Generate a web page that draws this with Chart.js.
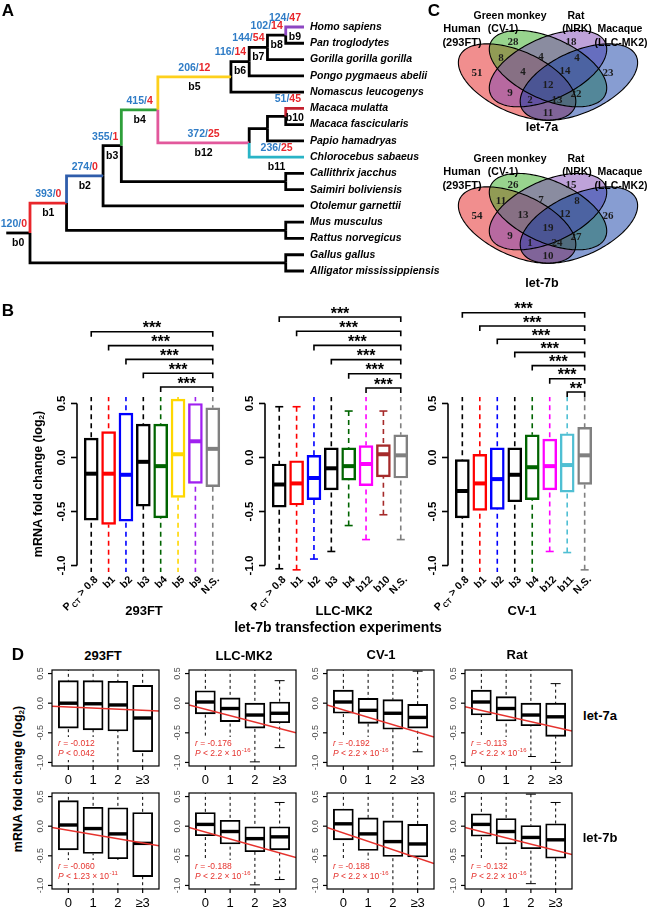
<!DOCTYPE html>
<html>
<head>
<meta charset="utf-8">
<script src="https://cdn.jsdelivr.net/npm/chart.js@4.4.0/dist/chart.umd.min.js"></script>
<style>
  html, body { margin: 0; padding: 0; background: #fff; }
  body { width: 648px; height: 908px; position: relative; overflow: hidden;
         font-family: "Liberation Sans", Arial, Helvetica, sans-serif; }
  canvas { position: absolute; }
  .t { position: absolute; white-space: nowrap; font-weight: bold; color: #000;
       transform: translate(-50%, -50%); line-height: 1; }
  .t sub { font-size: 65%; vertical-align: -0.25em; }
</style>
</head>
<body>
<script>
// ---------------- A: miRNA target gain/loss on the tree ----------------
const species = ['Homo sapiens', 'Pan troglodytes', 'Gorilla gorilla gorilla', 'Pongo pygmaeus abelii',
  'Nomascus leucogenys', 'Macaca mulatta', 'Macaca fascicularis', 'Papio hamadryas', 'Chlorocebus sabaeus',
  'Callithrix jacchus', 'Saimiri boliviensis', 'Otolemur garnettii', 'Mus musculus', 'Rattus norvegicus',
  'Gallus gallus', 'Alligator mississippiensis'];
const tipParents = ['n8', 'n8', 'n7', 'n6', 'n5', 'n10', 'n10', 'n13', 'n12', 'nNW', 'nNW', 'n2',
  'nRod', 'nRod', 'nBird', 'nBird'];
const tipDepth = 15;
// internal nodes: [id, parent, depth]
const treeNodes = [['root', null, 0], ['n1', 'root', 2], ['n2', 'n1', 4], ['n3', 'n2', 5], ['n4', 'n3', 7],
  ['n5', 'n4', 11], ['n6', 'n5', 12], ['n7', 'n6', 13], ['n8', 'n7', 14], ['n12', 'n4', 12], ['n13', 'n12', 13],
  ['n10', 'n13', 14], ['nNW', 'n3', 14], ['nRod', 'n1', 14], ['nBird', 'root', 14]];
const branchNames = ['b0', 'b1', 'b2', 'b3', 'b4', 'b5', 'b6', 'b7', 'b8', 'b9', 'b10', 'b11', 'b12'];
const branchNodes = ['root', 'n1', 'n2', 'n3', 'n4', 'n5', 'n6', 'n7', 'n8', 'Homo sapiens',
  'Macaca mulatta', 'Chlorocebus sabaeus', 'n12'];
const gained = [120, 393, 274, 355, 415, 206, 116, 144, 102, 124, 51, 236, 372];
const lost = [0, 0, 0, 1, 4, 12, 14, 54, 14, 47, 45, 25, 25];

// ---------------- C: Venn counts ----------------
const vennSets = ['Human', 'Green monkey', 'Rat', 'Macaque'];
const vennCells = ['(293FT)', '(CV-1)', '(NRK)', '(LLC-MK2)'];
// regions: R, G, P, B, RG, GP, PB, RGP, GPB, RGPB, RP, GB, RPB, RGB, RB
const venn7a = [51, 28, 18, 23, 8, 4, 4, 4, 14, 12, 9, 22, 2, 13, 11];
const venn7b = [54, 26, 15, 26, 11, 7, 8, 13, 12, 19, 9, 27, 1, 24, 10];

// ---------------- B: let-7b transfection boxplots ----------------
const bTicks = [0.5, 0.0, -0.5, -1.0];
const b293Groups = ['P_CT > 0.8', 'b1', 'b2', 'b3', 'b4', 'b5', 'b9', 'N.S.'];
const b293Q1 = [-0.58, -0.62, -0.59, -0.45, -0.56, -0.37, -0.24, -0.27];
const b293Med = [-0.15, -0.15, -0.16, -0.04, -0.08, 0.03, 0.15, 0.08];
const b293Q3 = [0.18, 0.24, 0.41, 0.31, 0.31, 0.54, 0.50, 0.46];
const b293Lo = [-1.4, -1.4, -1.4, -1.4, -1.4, -1.4, -1.4, -1.4];
const b293Hi = [0.9, 0.9, 0.9, 0.9, 0.9, 0.9, 0.9, 0.9];
const b293SigFrom = [0, 1, 2, 3, 4];
const b293Sig = ['***', '***', '***', '***', '***'];

const bLlcGroups = ['P_CT > 0.8', 'b1', 'b2', 'b3', 'b4', 'b12', 'b10', 'N.S.'];
const bLlcQ1 = [-0.46, -0.44, -0.39, -0.30, -0.21, -0.26, -0.18, -0.19];
const bLlcMed = [-0.25, -0.24, -0.19, -0.10, -0.08, -0.06, 0.03, 0.02];
const bLlcQ3 = [-0.06, -0.03, 0.02, 0.09, 0.09, 0.11, 0.12, 0.21];
const bLlcLo = [-1.03, -1.04, -0.94, -0.87, -0.63, -0.76, -0.53, -0.76];
const bLlcHi = [0.47, 0.47, 0.9, 0.9, 0.43, 0.9, 0.43, 0.9];
const bLlcSigFrom = [0, 1, 2, 3, 4, 5];
const bLlcSig = ['***', '***', '***', '***', '***', '***'];

const bCvGroups = ['P_CT > 0.8', 'b1', 'b2', 'b3', 'b4', 'b12', 'b11', 'N.S.'];
const bCvQ1 = [-0.56, -0.49, -0.48, -0.41, -0.39, -0.30, -0.32, -0.25];
const bCvMed = [-0.31, -0.24, -0.20, -0.16, -0.09, -0.08, -0.07, 0.02];
const bCvQ3 = [-0.02, 0.03, 0.09, 0.09, 0.21, 0.17, 0.22, 0.28];
const bCvLo = [-1.4, -1.4, -1.4, -1.4, -1.4, -0.87, -0.88, -1.04];
const bCvHi = [0.9, 0.9, 0.9, 0.9, 0.9, 0.9, 0.9, 0.9];
const bCvSigFrom = [0, 1, 2, 3, 4, 5, 6];
const bCvSig = ['***', '***', '***', '***', '***', '***', '**'];

// ---------------- D: fold change vs number of sites ----------------
const dCells = ['293FT', 'LLC-MK2', 'CV-1', 'Rat'];
const dMirnas = ['let-7a', 'let-7b'];
const dSiteLabels = ['0', '1', '2', '\u22653'];
const dTicks = [0.5, 0.0, -0.5, -1.0];
const d7aQ1 = [[-0.42, -0.45, -0.47, -0.82], [-0.18, -0.31, -0.42, -0.33], [-0.17, -0.34, -0.44, -0.42], [-0.20, -0.30, -0.38, -0.56]];
const d7aMed = [[0.00, -0.01, -0.03, -0.25], [0.02, -0.09, -0.20, -0.17], [0.02, -0.12, -0.17, -0.24], [0.02, -0.09, -0.20, -0.23]];
const d7aQ3 = [[0.38, 0.38, 0.37, 0.30], [0.21, 0.09, 0.00, 0.02], [0.22, 0.08, 0.06, -0.02], [0.22, 0.11, 0.00, 0.00]];
const d7aLo = [[-1.3, -1.3, -1.3, -1.3], [-0.75, -0.8, -0.99, -0.75], [-0.74, -0.8, -1.3, -0.82], [-0.74, -0.8, -0.9, -1.0]];
const d7aHi = [[0.9, 0.9, 0.9, 0.9], [0.9, 0.9, 0.9, 0.38], [0.9, 0.9, 0.9, 0.54], [0.9, 0.9, 0.9, 0.33]];
const d7aFitA = [-0.044, 0.007, 0.013, -0.028];
const d7aFitB = [-0.019, -0.109, -0.125, -0.095];
const d7aR = ['-0.012', '-0.176', '-0.192', '-0.113'];
const d7aP = ['0.042', '2.2', '2.2', '2.2'];
const d7aPExp = ['', '-16', '-16', '-16'];

const d7bQ1 = [[-0.40, -0.46, -0.55, -0.85], [-0.16, -0.30, -0.43, -0.40], [-0.23, -0.41, -0.51, -0.52], [-0.17, -0.30, -0.38, -0.54]];
const d7bMed = [[0.02, -0.04, -0.13, -0.29], [0.03, -0.09, -0.21, -0.18], [0.04, -0.13, -0.26, -0.30], [0.03, -0.09, -0.19, -0.23]];
const d7bQ3 = [[0.43, 0.32, 0.31, 0.23], [0.23, 0.10, -0.01, -0.01], [0.29, 0.14, 0.09, 0.03], [0.21, 0.13, 0.01, 0.04]];
const d7bLo = [[-1.3, -1.3, -1.3, -1.3], [-0.74, -0.8, -0.99, -0.9], [-0.74, -0.8, -1.3, -1.3], [-0.74, -0.8, -0.97, -1.3]];
const d7bHi = [[0.9, 0.9, 0.9, 0.9], [0.9, 0.9, 0.9, 0.40], [0.9, 0.9, 0.9, 0.9], [0.9, 0.9, 0.54, 0.40]];
const d7bFitA = [0.004, 0.020, 0.028, 0.016];
const d7bFitB = [-0.072, -0.118, -0.141, -0.106];
const d7bR = ['-0.060', '-0.188', '-0.188', '-0.132'];
const d7bP = ['1.23', '2.2', '2.2', '2.2'];
const d7bPExp = ['-11', '-16', '-16', '-16'];

// ---------------- helpers ----------------
const FONT = '"Liberation Sans", Arial, Helvetica, sans-serif';
Chart.defaults.font.family = FONT;

function newCanvas(area, pad) {
  const c = document.createElement('canvas');
  c.width = area.w + pad.left + pad.right;
  c.height = area.h + pad.top + pad.bottom;
  c.style.left = (area.x - pad.left) + 'px';
  c.style.top = (area.y - pad.top) + 'px';
  document.body.appendChild(c);
  return c;
}

function label(html, x, y, size, extra) {
  const d = document.createElement('div');
  d.className = 't';
  d.innerHTML = html;
  d.style.left = x + 'px';
  d.style.top = y + 'px';
  d.style.fontSize = size + 'px';
  if (extra) Object.assign(d.style, extra);
  document.body.appendChild(d);
}

function seg(ctx, x1, y1, x2, y2) {
  ctx.beginPath(); ctx.moveTo(x1, y1); ctx.lineTo(x2, y2); ctx.stroke();
}

function baseOptions(pad, xr, yr, yReverse) {
  return {
    responsive: false, animation: false, events: [],
    layout: { padding: pad },
    plugins: { legend: { display: false }, tooltip: { enabled: false } },
    scales: {
      x: { type: 'linear', display: false, min: xr[0], max: xr[1], offset: false },
      y: { type: 'linear', display: false, min: yr[0], max: yr[1], reverse: !!yReverse }
    }
  };
}

// ---------------- A: tree ----------------
const branchColors = { b1: '#e8262b', b2: '#2f5dab', b4: '#2e9f3a', b5: '#fdd01c', b9: '#8d47c2',
  b10: '#c4202e', b11: '#29b4c6', b12: '#e2589c' };
const stemStart = -1.3;
const nodeInfo = {};
treeNodes.forEach(([id, p, d]) => { nodeInfo[id] = { parent: p, depth: d, kids: [] }; });
species.forEach((s, i) => { nodeInfo[s] = { parent: tipParents[i], depth: tipDepth, kids: [], y: i }; });
Object.keys(nodeInfo).forEach(id => { const p = nodeInfo[id].parent; if (p) nodeInfo[p].kids.push(id); });
function nodeY(id) {
  const n = nodeInfo[id];
  if (n.y === undefined) {
    const ys = n.kids.map(nodeY);
    n.y = (Math.min(...ys) + Math.max(...ys)) / 2;
  }
  return n.y;
}
nodeY('root');
const branchOf = {};
branchNodes.forEach((n, i) => { branchOf[n] = branchNames[i]; });

const treeSets = [];
Object.keys(nodeInfo).forEach(id => {
  const n = nodeInfo[id];
  if (!n.parent) return;
  const p = nodeInfo[n.parent];
  const col = branchColors[branchOf[id]];
  const ds = {
    data: [{ x: p.depth, y: p.y }, { x: p.depth, y: n.y }, { x: n.depth, y: n.y }],
    borderColor: col || '#000', borderWidth: 2.8, showLine: true, pointRadius: 0,
    borderJoinStyle: 'miter', borderCapStyle: 'butt', clip: false
  };
  if (col) treeSets.unshift(ds); else treeSets.push(ds);
});
const rootNode = nodeInfo.root;
treeSets.push({ data: [{ x: stemStart, y: rootNode.y }, { x: 0, y: rootNode.y }], borderColor: '#000',
  borderWidth: 2.8, showLine: true, pointRadius: 0, borderCapStyle: 'butt', clip: false });

const treeText = {
  id: 'treeText',
  afterDatasetsDraw(chart) {
    const { ctx, scales: { x, y } } = chart;
    ctx.save();
    ctx.textBaseline = 'middle';
    ctx.font = 'italic bold 10.5px ' + FONT;
    ctx.fillStyle = '#000';
    ctx.textAlign = 'left';
    species.forEach((s, i) => ctx.fillText(s, x.getPixelForValue(tipDepth) + 6, y.getPixelForValue(i)));
    branchNames.forEach((b, k) => {
      const n = nodeInfo[branchNodes[k]];
      const d0 = n.parent ? nodeInfo[n.parent].depth : stemStart;
      const x1 = x.getPixelForValue(d0), x2 = x.getPixelForValue(n.depth), py = y.getPixelForValue(n.y);
      ctx.font = 'bold 10.5px ' + FONT;
      const g = gained[k] + '/', l = String(lost[k]);
      const wg = ctx.measureText(g).width, wl = ctx.measureText(l).width;
      const right = Math.min((x1 + x2) / 2 + (wg + wl) / 2, x2 - 3);
      ctx.textAlign = 'left';
      ctx.fillStyle = '#2f7cc6';
      ctx.fillText(g, right - wg - wl, py - 9);
      ctx.fillStyle = '#e8262b';
      ctx.fillText(l, right - wl, py - 9);
      ctx.fillStyle = '#000';
      ctx.textAlign = 'center';
      ctx.fillText(b, (x1 + x2) / 2, py + 10);
    });
    ctx.restore();
  }
};

(function () {
  const pad = { left: 30, top: 27, right: 146, bottom: 14 };
  const c = newCanvas({ x: 30, y: 27, w: 274, h: 244 }, pad);
  new Chart(c, {
    type: 'scatter',
    data: { datasets: treeSets },
    options: baseOptions(pad, [0, tipDepth], [0, species.length - 1], true),
    plugins: [treeText]
  });
})();

// ---------------- C: Venn diagrams ----------------
const vennA = 0.35, vennB = 0.2;
const vennShapes = [
  { cx: 0.35, cy: 0.47, rot: -45, fill: 'rgba(228,30,30,0.5)' },
  { cx: 0.50, cy: 0.57, rot: -45, fill: 'rgba(50,170,30,0.5)' },
  { cx: 0.50, cy: 0.57, rot: 45, fill: 'rgba(125,70,180,0.5)' },
  { cx: 0.65, cy: 0.47, rot: 45, fill: 'rgba(15,60,165,0.5)' }
];
const vennLabelX = [0.155, 0.330, 0.612, 0.791, 0.272, 0.466, 0.641, 0.379, 0.583, 0.500, 0.316, 0.636, 0.413, 0.544, 0.500];
const vennLabelY = [0.537, 0.769, 0.769, 0.537, 0.649, 0.657, 0.649, 0.545, 0.552, 0.448, 0.388, 0.381, 0.336, 0.336, 0.239];

function vennPlugin(counts) {
  return {
    id: 'venn',
    beforeDatasetsDraw(chart) {
      const { ctx, scales: { x, y } } = chart;
      ctx.save();
      const paths = vennShapes.map(e => {
        const p = new Path2D();
        const r = e.rot * Math.PI / 180;
        for (let k = 0; k <= 180; k++) {
          const t = k / 180 * 2 * Math.PI;
          const u = e.cx + vennA * Math.cos(t) * Math.cos(r) - vennB * Math.sin(t) * Math.sin(r);
          const v = e.cy + vennA * Math.cos(t) * Math.sin(r) + vennB * Math.sin(t) * Math.cos(r);
          const px = x.getPixelForValue(u), py = y.getPixelForValue(v);
          if (k) p.lineTo(px, py); else p.moveTo(px, py);
        }
        p.closePath();
        return p;
      });
      paths.forEach((p, i) => { ctx.fillStyle = vennShapes[i].fill; ctx.fill(p); });
      ctx.strokeStyle = '#000';
      ctx.lineWidth = 1.1;
      paths.forEach(p => ctx.stroke(p));
      ctx.restore();
    },
    afterDatasetsDraw(chart) {
      const { ctx } = chart;
      const pts = chart.getDatasetMeta(0).data;
      ctx.save();
      ctx.font = 'bold 11px "Liberation Serif", "Times New Roman", serif';
      ctx.fillStyle = '#1c1c1c';
      ctx.textAlign = 'center';
      ctx.textBaseline = 'middle';
      counts.forEach((n, i) => ctx.fillText(String(n), pts[i].x, pts[i].y));
      ctx.restore();
    }
  };
}

function makeVenn(top, counts, title, titleY) {
  const pad = { left: 0, top: 0, right: 0, bottom: 0 };
  const c = newCanvas({ x: 445, y: top, w: 206, h: 134 }, pad);
  new Chart(c, {
    type: 'scatter',
    data: { datasets: [{ data: counts.map((n, i) => ({ x: vennLabelX[i], y: vennLabelY[i] })), pointRadius: 0 }] },
    options: baseOptions(pad, [0, 1], [0, 1], false),
    plugins: [vennPlugin(counts)]
  });
  label(vennSets[0], 462, top + 17, 11);
  label(vennCells[0], 462, top + 31, 11);
  label(vennSets[1], 510, top + 4, 10.5);
  label(vennCells[1], 503, top + 17, 10.5);
  label(vennSets[2], 576, top + 4, 10.5);
  label(vennCells[2], 577, top + 17, 10.5);
  label(vennSets[3], 620, top + 17, 10.5);
  label(vennCells[3], 621, top + 31, 10.5);
  label(title, 542, titleY, 12.5);
}
makeVenn(11, venn7a, 'let-7a', 127);
makeVenn(154, venn7b, 'let-7b', 283);

// ---------------- box plot drawing ----------------
function boxPlugin(s) {
  return {
    id: 'boxes',
    afterDatasetDraw(chart, args) {
      if (args.meta.type !== 'bar') return;
      const { ctx, chartArea: a, scales: { x, y } } = chart;
      ctx.save();
      ctx.beginPath();
      ctx.rect(a.left, a.top, a.right - a.left, a.bottom - a.top);
      ctx.clip();
      s.q1.forEach((q1, i) => {
        const px = x.getPixelForValue(i + 1);
        ctx.strokeStyle = s.colors[i];
        ctx.lineWidth = s.whiskerW;
        ctx.setLineDash(s.dash);
        seg(ctx, px, y.getPixelForValue(s.hi[i]), px, y.getPixelForValue(s.q3[i]));
        seg(ctx, px, y.getPixelForValue(s.lo[i]), px, y.getPixelForValue(q1));
        ctx.setLineDash([]);
        [s.hi[i], s.lo[i]].forEach(v => {
          const py = y.getPixelForValue(v);
          seg(ctx, px - s.capHalf, py, px + s.capHalf, py);
        });
        ctx.lineWidth = s.medianW;
        const pm = y.getPixelForValue(s.med[i]);
        seg(ctx, px - s.boxHalf, pm, px + s.boxHalf, pm);
      });
      ctx.restore();
      if (s.afterBoxes) s.afterBoxes(chart);
    }
  };
}

// ---------------- B ----------------
function groupLabel(ctx, text, x, y) {
  ctx.save();
  ctx.translate(x, y);
  ctx.rotate(-Math.PI / 4);
  ctx.textAlign = 'right';
  ctx.textBaseline = 'middle';
  ctx.font = 'bold 10.5px ' + FONT;
  if (text.indexOf('P_CT') === 0) {
    const rest = text.slice(4);
    const wRest = ctx.measureText(rest).width;
    ctx.fillText(rest, 0, 0);
    ctx.font = 'bold 7.5px ' + FONT;
    const wSub = ctx.measureText('CT').width;
    ctx.fillText('CT', -wRest, 4);
    ctx.font = 'bold 10.5px ' + FONT;
    ctx.fillText('P', -wRest - wSub - 0.5, 0);
  } else {
    ctx.fillText(text, 0, 0);
  }
  ctx.restore();
}

function bAxes(s) {
  return {
    id: 'baxes',
    afterDraw(chart) {
      const { ctx, chartArea: a, scales: { x, y } } = chart;
      ctx.save();
      ctx.strokeStyle = '#000';
      ctx.fillStyle = '#000';
      ctx.lineWidth = 1.6;
      seg(ctx, a.left, y.getPixelForValue(bTicks[0]), a.left, y.getPixelForValue(bTicks[bTicks.length - 1]));
      bTicks.forEach(v => {
        const py = y.getPixelForValue(v);
        seg(ctx, a.left - 6, py, a.left, py);
        ctx.save();
        ctx.translate(a.left - 15, py);
        ctx.rotate(-Math.PI / 2);
        ctx.font = 'bold 11.5px ' + FONT;
        ctx.textAlign = 'center';
        ctx.textBaseline = 'middle';
        ctx.fillText(v.toFixed(1), 0, 0);
        ctx.restore();
      });
      s.groups.forEach((g, i) => groupLabel(ctx, g, x.getPixelForValue(i + 1) + 5, a.bottom + 6));
      // significance brackets
      const endX = x.getPixelForValue(s.groups.length);
      const n = s.sigFrom.length;
      s.sigFrom.forEach((f, k) => {
        const by = a.top - s.brBase - s.brStep * (n - 1 - k);
        const sx = x.getPixelForValue(f + 1);
        ctx.lineWidth = 1.6;
        ctx.beginPath();
        ctx.moveTo(sx, by + 5); ctx.lineTo(sx, by); ctx.lineTo(endX, by); ctx.lineTo(endX, by + 5);
        ctx.stroke();
        ctx.font = 'bold 16px ' + FONT;
        ctx.textAlign = 'center';
        ctx.textBaseline = 'alphabetic';
        ctx.fillText(s.sig[k], (sx + endX) / 2, by + 1.5);
      });
      ctx.restore();
    }
  };
}

const bColorsA = ['#000000', '#ff0000', '#0000ff', '#000000', '#006400', '#ffd700', '#a020f0', '#808080'];
const bColorsB = ['#000000', '#ff0000', '#0000ff', '#000000', '#006400', '#ff00ff', '#a52a2a', '#808080'];
const bColorsC = ['#000000', '#ff0000', '#0000ff', '#000000', '#006400', '#ff00ff', '#4fbfd3', '#808080'];

function makeB(left, width, s) {
  const pad = { left: 65, top: 100, right: 12, bottom: 60 };
  const c = newCanvas({ x: left, y: 397, w: width, h: 175 }, pad);
  const spec = Object.assign({ whiskerW: 1.6, dash: [5, 4], capHalf: 4, medianW: 4, boxHalf: 6.3 }, s);
  new Chart(c, {
    type: 'bar',
    data: {
      datasets: [{
        data: s.q1.map((v, i) => ({ x: i + 1, y: [v, s.q3[i]] })),
        borderColor: s.colors, backgroundColor: 'rgba(0,0,0,0)', borderWidth: 1.8,
        borderSkipped: false, barThickness: 14
      }]
    },
    options: baseOptions(pad, [0.18, 8.82], [-1.06, 0.56], false),
    plugins: [boxPlugin(spec), bAxes(spec)]
  });
}

makeB(77, 150, { groups: b293Groups, colors: bColorsA, q1: b293Q1, med: b293Med, q3: b293Q3, lo: b293Lo, hi: b293Hi,
  sigFrom: b293SigFrom, sig: b293Sig, brBase: 10, brStep: 13.8 });
makeB(265, 150, { groups: bLlcGroups, colors: bColorsB, q1: bLlcQ1, med: bLlcMed, q3: bLlcQ3, lo: bLlcLo, hi: bLlcHi,
  sigFrom: bLlcSigFrom, sig: bLlcSig, brBase: 9, brStep: 14.2 });
makeB(448, 151, { groups: bCvGroups, colors: bColorsC, q1: bCvQ1, med: bCvMed, q3: bCvQ3, lo: bCvLo, hi: bCvHi,
  sigFrom: bCvSigFrom, sig: bCvSig, brBase: 5, brStep: 13.2 });

label('293FT', 144, 610, 13);
label('LLC-MK2', 344, 610, 13);
label('CV-1', 522, 610, 13);
label('let-7b transfection experiments', 338, 627, 14);
label('mRNA fold change (log<sub>2</sub>)', 39, 484, 12.5, { transform: 'translate(-50%,-50%) rotate(-90deg)' });

// ---------------- D ----------------
function dText(rTxt, pTxt, pExp) {
  return function (chart) {
    const { ctx, chartArea: a } = chart;
    const tx = a.left + 6, ry = a.bottom - 22, py = a.bottom - 12;
    ctx.save();
    const it = 'italic 8.5px ' + FONT, nm = '8.5px ' + FONT, sm = '6px ' + FONT;
    ctx.font = it; const wr = ctx.measureText('r').width, wp = ctx.measureText('P').width;
    ctx.font = nm;
    const r2 = ' = ' + rTxt, p2 = ' < ' + pTxt + (pExp ? ' \u00d7 10' : '');
    const wr2 = ctx.measureText(r2).width, wp2 = ctx.measureText(p2).width;
    ctx.font = sm; const we = pExp ? ctx.measureText(pExp).width : 0;
    const w = Math.max(wr + wr2, wp + wp2 + we);
    ctx.fillStyle = '#fff';
    ctx.fillRect(tx - 2, ry - 7, w + 4, py - ry + 13);
    ctx.fillStyle = '#e5322d';
    ctx.textBaseline = 'middle';
    ctx.textAlign = 'left';
    ctx.font = it; ctx.fillText('r', tx, ry); ctx.fillText('P', tx, py);
    ctx.font = nm; ctx.fillText(r2, tx + wr, ry); ctx.fillText(p2, tx + wp, py);
    if (pExp) { ctx.font = sm; ctx.fillText(pExp, tx + wp + wp2 + 0.5, py - 3.5); }
    ctx.restore();
  };
}

function dAxes() {
  return {
    id: 'daxes',
    afterDraw(chart) {
      const { ctx, chartArea: a, scales: { x, y } } = chart;
      ctx.save();
      ctx.strokeStyle = '#000';
      ctx.lineWidth = 1.2;
      ctx.strokeRect(a.left, a.top, a.right - a.left, a.bottom - a.top);
      dTicks.forEach(v => {
        const py = y.getPixelForValue(v);
        seg(ctx, a.left - 4, py, a.left, py);
        ctx.save();
        ctx.translate(a.left - 11, py);
        ctx.rotate(-Math.PI / 2);
        ctx.font = '9px ' + FONT;
        ctx.fillStyle = '#4a4a4a';
        ctx.textAlign = 'center';
        ctx.textBaseline = 'middle';
        ctx.fillText(v.toFixed(1), 0, 0);
        ctx.restore();
      });
      dSiteLabels.forEach((t, i) => {
        const px = x.getPixelForValue(i + 1);
        seg(ctx, px, a.bottom, px, a.bottom + 4);
        ctx.font = '13px ' + FONT;
        ctx.fillStyle = '#000';
        ctx.textAlign = 'center';
        ctx.textBaseline = 'middle';
        ctx.fillText(t, px, a.bottom + 14);
      });
      ctx.restore();
    }
  };
}

const dColLeft = [52, 189, 327, 465];
const dRowTop = [670, 793];
const dRows = [
  { q1: d7aQ1, med: d7aMed, q3: d7aQ3, lo: d7aLo, hi: d7aHi, fa: d7aFitA, fb: d7aFitB, r: d7aR, p: d7aP, pe: d7aPExp },
  { q1: d7bQ1, med: d7bMed, q3: d7bQ3, lo: d7bLo, hi: d7bHi, fa: d7bFitA, fb: d7bFitB, r: d7bR, p: d7bP, pe: d7bPExp }
];
const dXRange = [0.34, 4.66];

dRows.forEach((row, r) => {
  dCells.forEach((cell, c) => {
    const pad = { left: 24, top: 4, right: 4, bottom: 24 };
    const cv = newCanvas({ x: dColLeft[c], y: dRowTop[r], w: 107, h: 96 }, pad);
    const spec = {
      q1: row.q1[c], med: row.med[c], q3: row.q3[c], lo: row.lo[c], hi: row.hi[c],
      colors: ['#000', '#000', '#000', '#000'], whiskerW: 1, dash: [3, 3], capHalf: 5, medianW: 3.4, boxHalf: 9.5,
      afterBoxes: dText(row.r[c], row.p[c], row.pe[c])
    };
    new Chart(cv, {
      type: 'bar',
      data: {
        datasets: [
          {
            type: 'line', order: 0,
            data: dXRange.map(xv => ({ x: xv, y: row.fa[c] + row.fb[c] * xv })),
            borderColor: '#e5322d', borderWidth: 1.5, pointRadius: 0
          },
          {
            order: 1,
            data: spec.q1.map((v, i) => ({ x: i + 1, y: [v, spec.q3[i]] })),
            borderColor: '#000', backgroundColor: 'rgba(0,0,0,0)', borderWidth: 1.2,
            borderSkipped: false, barThickness: 20
          }
        ]
      },
      options: baseOptions(pad, dXRange, [-1.06, 0.56], false),
      plugins: [boxPlugin(spec), dAxes()]
    });
  });
});

label('293FT', 103, 655, 13);
label('LLC-MK2', 244, 655, 13);
label('CV-1', 381, 654, 13);
label('Rat', 517, 654, 13);
label(dMirnas[0], 600, 715, 13);
label(dMirnas[1], 600, 837, 13);
label('mRNA fold change (log<sub>2</sub>)', 19, 779, 12.5, { transform: 'translate(-50%,-50%) rotate(-90deg)' });

// panel letters
label('A', 8, 10, 17);
label('B', 8, 310, 17);
label('C', 434, 10, 17);
label('D', 18, 654, 17);
</script>
</body>
</html>
